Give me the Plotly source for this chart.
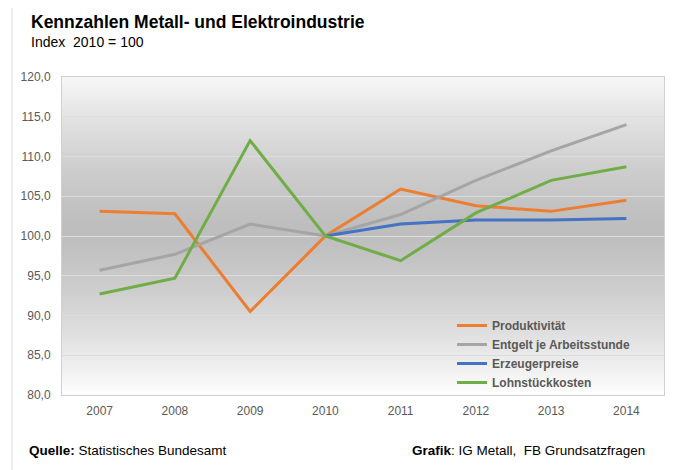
import plotly.graph_objects as go

years = ["2007", "2008", "2009", "2010", "2011", "2012", "2013", "2014"]
produktivitaet = [103.1, 102.8, 90.5, 100.0, 105.9, 103.8, 103.1, 104.5]
entgelt = [95.7, 97.7, 101.5, 100.0, 102.7, 107.0, 110.7, 114.0]
erzeugerpreise = [None, None, None, 100.0, 101.5, 102.0, 102.0, 102.2]
lohnstueck = [92.7, 94.7, 112.0, 100.0, 96.9, 102.9, 107.0, 108.7]

series_names = ["Produktivität", "Entgelt je Arbeitsstunde", "Erzeugerpreise", "Lohnstückkosten"]
series_values = [produktivitaet, entgelt, erzeugerpreise, lohnstueck]
series_colors = ["#ED7D31", "#A5A5A5", "#4472C4", "#70AD47"]

FONT = "Liberation Sans, Arial, sans-serif"

fig = go.Figure()
for name, vals, col in zip(series_names, series_values, series_colors):
    fig.add_trace(go.Scatter(x=years, y=vals, name=name, mode="lines",
                             line=dict(color=col, width=3), connectgaps=False))

# gradient background: white at edges, gray in the middle
shapes = []
n = 100
for i in range(n):
    t = (i + 0.5) / n
    d = abs(t - 0.52) / 0.52
    d = min(d, 1.0)
    g = int(round(190 + (254 - 190) * d ** 1.4))
    shapes.append(dict(type="rect", xref="x domain", yref="y domain",
                       x0=0, x1=1, y0=i / n, y1=min(1.0, (i + 1.6) / n),
                       fillcolor=f"rgb({g},{g},{g})", line=dict(width=0), layer="below"))

# page body has an 8px margin: work in page pixels, offset by 8
OFF = 8
W, H = 682 - OFF, 470 - OFF
L, R, T, B = 62, 664, 77, 395  # page pixel coordinates of the plot area
def px(x): return (x - L) / (R - L)
def py(y): return (B - y) / (B - T)
frame = "#d9d9d9"
shapes.append(dict(type="line", xref="paper", yref="paper", x0=px(12), x1=px(12), y0=py(3), y1=py(470), line=dict(color=frame, width=1)))
shapes.append(dict(type="line", xref="paper", yref="paper", x0=px(12), x1=px(677), y0=py(3), y1=py(3), line=dict(color=frame, width=1)))
shapes.append(dict(type="line", xref="paper", yref="paper", x0=px(677), x1=px(677), y0=py(3), y1=py(470), line=dict(color=frame, width=1)))

annotations = [
    dict(text="<b>Kennzahlen Metall- und Elektroindustrie</b>", xref="paper", yref="paper",
         x=px(29), y=py(22), xanchor="left", yanchor="middle", showarrow=False,
         font=dict(family=FONT, size=17.5, color="#000000")),
    dict(text="Index  2010 = 100", xref="paper", yref="paper",
         x=px(29), y=py(42), xanchor="left", yanchor="middle", showarrow=False,
         font=dict(family=FONT, size=14, color="#000000")),
    dict(text="<b>Quelle:</b> Statistisches Bundesamt", xref="paper", yref="paper",
         x=px(27), y=py(450), xanchor="left", yanchor="middle", showarrow=False,
         font=dict(family=FONT, size=13.5, color="#000000")),
    dict(text="<b>Grafik</b>: IG Metall,  FB Grundsatzfragen", xref="paper", yref="paper",
         x=px(410), y=py(450), xanchor="left", yanchor="middle", showarrow=False,
         font=dict(family=FONT, size=13.5, color="#000000")),
]

fig.update_layout(
    width=W, height=H,
    margin=dict(l=L - OFF, r=(W + OFF) - R, t=T - OFF, b=(H + OFF) - B),
    paper_bgcolor="white", plot_bgcolor="white",
    separators=",.",
    font=dict(family=FONT, color="#595959", size=12),
    shapes=shapes, annotations=annotations,
    showlegend=True,
    legend=dict(x=px(452), y=py(311), xanchor="left", yanchor="top",
                bgcolor="rgba(0,0,0,0)", font=dict(family=FONT, size=12, color="#595959", weight="bold"),
                tracegroupgap=0),
)
fig.update_xaxes(type="category", range=[-0.5, 7.5], showgrid=False, showline=True,
                 linecolor="#d0d0d0", mirror=True, ticks="", ticklabelstandoff=5,
                 tickfont=dict(size=12, color="#595959"))
fig.update_yaxes(range=[80, 120], dtick=5, tickformat=".1f", showgrid=True, gridcolor="#dcdcdc",
                 showline=True, linecolor="#d0d0d0", mirror=True, zeroline=False, ticks="",
                 ticklabelstandoff=8, tickfont=dict(size=12, color="#595959"))

fig.write_html("out.html")
